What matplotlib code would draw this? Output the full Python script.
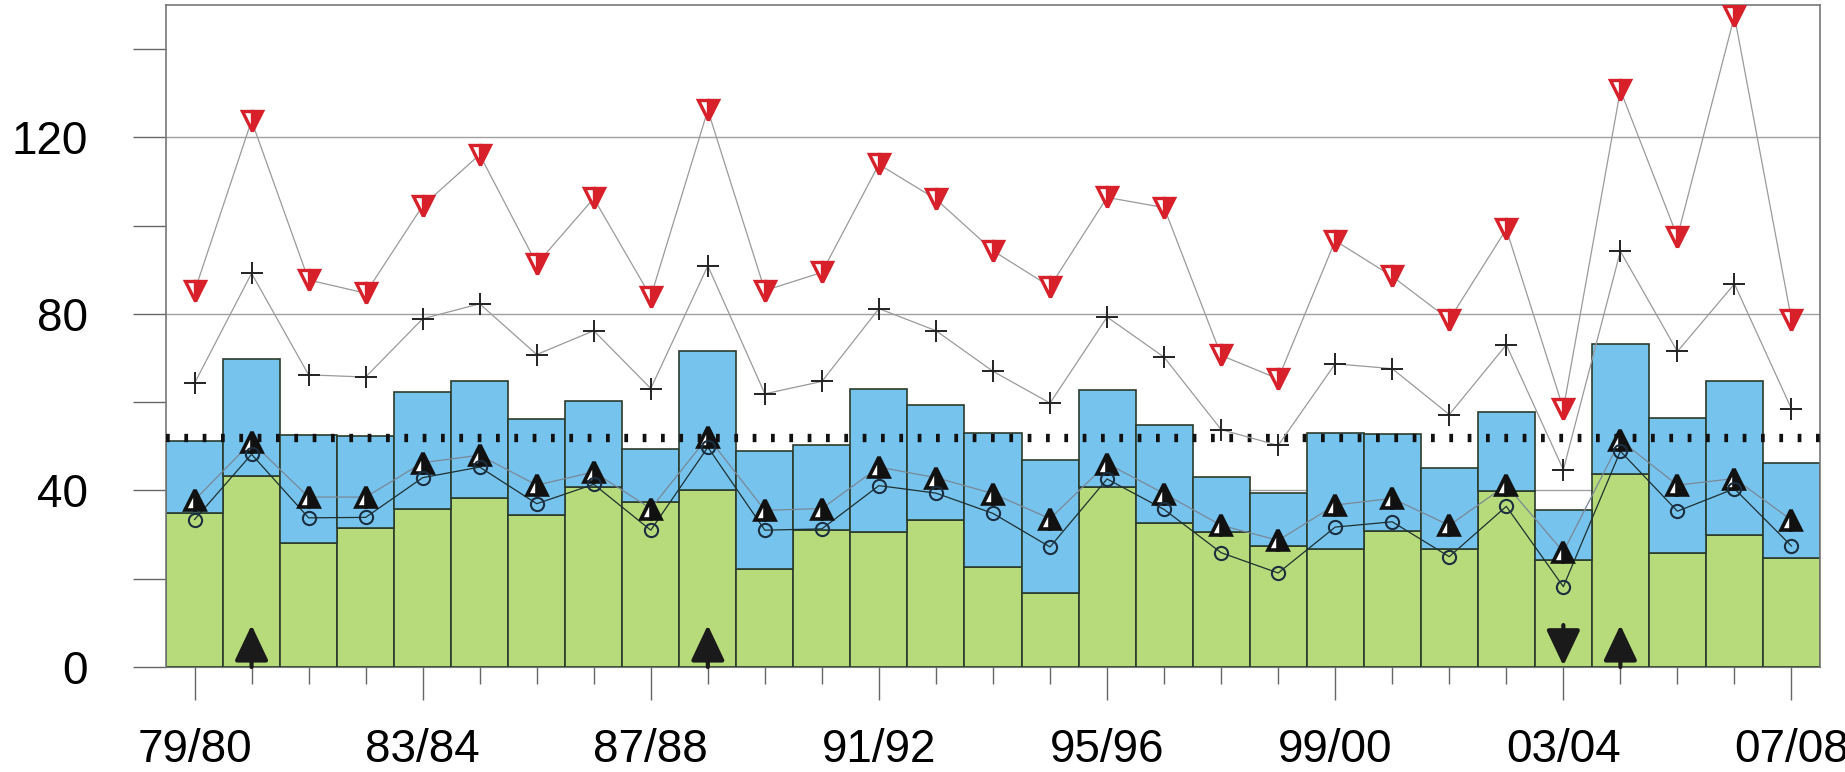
import matplotlib
matplotlib.use("Agg")
import matplotlib.pyplot as plt
import numpy as np
from matplotlib.ticker import FixedLocator, FuncFormatter

plt.rcParams['font.family'] = ['Liberation Sans', 'DejaVu Sans']

seasons = ['79/80', '80/81', '81/82', '82/83', '83/84', '84/85', '85/86', '86/87',
           '87/88', '88/89', '89/90', '90/91', '91/92', '92/93', '93/94', '94/95',
           '95/96', '96/97', '97/98', '98/99', '99/00', '00/01', '01/02', '02/03',
           '03/04', '04/05', '05/06', '06/07', '07/08']

green_top = [34.8, 43.2, 28.0, 31.4, 35.7, 38.2, 34.4, 40.8, 37.4, 40.2, 22.2, 31.0,
             30.5, 33.3, 22.7, 16.8, 40.8, 32.7, 30.7, 27.4, 26.7, 30.8, 26.7, 39.8,
             24.2, 43.8, 25.9, 29.8, 24.6]
blue_top = [51.2, 69.8, 52.6, 52.3, 62.4, 64.7, 56.1, 60.2, 49.3, 71.5, 48.9, 50.4,
            62.9, 59.4, 53.1, 46.8, 62.7, 54.8, 43.1, 39.5, 53.1, 52.9, 45.1, 57.8,
            35.5, 73.2, 56.5, 64.8, 46.2]
red_tri = [85.1, 123.8, 87.7, 84.7, 104.5, 116.1, 91.3, 106.2, 83.9, 126.2, 85.3, 89.4,
           113.9, 106.0, 94.3, 86.2, 106.4, 104.1, 70.6, 65.3, 96.6, 88.5, 78.7, 99.2,
           58.5, 130.7, 97.5, 147.5, 78.7]
plus_vals = [64.3, 89.2, 66.2, 65.7, 78.9, 82.3, 70.8, 76.2, 63.1, 90.9, 61.9, 64.7,
             81.2, 76.2, 67.0, 59.8, 79.3, 70.2, 53.8, 50.2, 68.7, 67.6, 57.2, 73.0,
             44.7, 94.2, 71.5, 86.8, 58.5]
black_tri = [37.8, 51.0, 38.5, 38.5, 46.3, 48.0, 41.2, 44.2, 35.9, 52.1, 35.5, 35.9,
             45.3, 42.9, 39.3, 33.6, 46.1, 39.3, 32.1, 28.7, 36.7, 38.2, 32.1, 41.2,
             26.1, 51.4, 41.2, 42.7, 33.3]
circles = [33.4, 48.2, 33.8, 33.9, 42.9, 45.3, 37.0, 41.4, 31.0, 49.8, 31.0, 31.3,
           41.1, 39.4, 34.8, 27.2, 42.6, 35.7, 25.9, 21.3, 31.7, 32.9, 25.0, 36.4,
           18.2, 48.9, 35.3, 40.4, 27.4]
threshold = 52.0
up_arrows = [1, 9, 25]
down_arrows = [24]
arrow_len = 9.5

x = np.arange(len(seasons))
green_top = np.array(green_top)
blue_top = np.array(blue_top)

fig = plt.figure(figsize=(18.45, 7.72), dpi=100)
ax = fig.add_axes([166/1845, 1-667/772, (1820-166)/1845, (667-5)/772])

for yv in [40, 80, 120]:
    ax.axhline(yv, color='#a0a0a0', lw=1.0, zorder=0.5)

edge = '#2b3b2b'
ax.bar(x, green_top, width=1.0, color='#b7db7a', edgecolor=edge, linewidth=1.2, zorder=2)
ax.bar(x, blue_top - green_top, bottom=green_top, width=1.0, color='#76c3ee',
       edgecolor=edge, linewidth=1.2, zorder=2)

ax.axhline(threshold, color='#111111', lw=6.0, linestyle=(0, (0.45, 1.75)),
           dash_capstyle='butt', zorder=3)

ax.plot(x, red_tri, color='#9a9a9a', lw=0.9, zorder=4)
ax.plot(x, red_tri, linestyle='none', marker='v', markersize=15, fillstyle='right',
        markerfacecolor='#d7202a', markerfacecoloralt='white', markeredgecolor='#d7202a',
        markeredgewidth=2.4, zorder=6)

ax.plot(x, plus_vals, color='#9a9a9a', lw=0.9, zorder=4)
ax.plot(x, plus_vals, linestyle='none', marker='+', markersize=16, color='#222222',
        markeredgewidth=1.4, zorder=6)

ax.plot(x, black_tri, color='#7a8896', lw=0.9, zorder=4)
ax.plot(x, black_tri, linestyle='none', marker='^', markersize=15, fillstyle='right',
        markerfacecolor='#111111', markerfacecoloralt='white', markeredgecolor='#111111',
        markeredgewidth=2.6, zorder=6)

ax.plot(x, circles, color='#1e3030', lw=0.9, zorder=4)
ax.plot(x, circles, linestyle='none', marker='o', markersize=9.5, markerfacecolor='none',
        markeredgecolor='#1b2f40', markeredgewidth=1.5, zorder=6)

astyle = dict(arrowstyle='-|>,head_length=1.1,head_width=0.52', mutation_scale=20,
              lw=3, color='#1a1a1a', shrinkA=0, shrinkB=0)
for i in up_arrows:
    ax.annotate('', xy=(x[i], arrow_len), xytext=(x[i], 0), arrowprops=astyle, zorder=7)
for i in down_arrows:
    ax.annotate('', xy=(x[i], 0.3), xytext=(x[i], arrow_len), arrowprops=astyle, zorder=7)

ax.set_xlim(-0.5, len(seasons) - 0.5)
ax.set_ylim(0, 150)

ax.yaxis.set_major_locator(FixedLocator([0, 20, 40, 60, 80, 100, 120, 140]))
ax.yaxis.set_major_formatter(FuncFormatter(lambda v, p: f"{int(v)}" if v % 40 == 0 else ""))
ax.tick_params(axis='y', direction='out', length=24, width=1, color='#666666',
               labelsize=33, pad=32)

major_idx = list(range(0, len(seasons), 4))
ax.set_xticks(major_idx)
ax.set_xticklabels([seasons[i] for i in major_idx])
ax.set_xticks([i for i in x if i not in major_idx], minor=True)
ax.tick_params(axis='x', which='major', direction='out', length=24, width=1,
               color='#666666', labelsize=33, pad=20)
ax.tick_params(axis='x', which='minor', direction='out', length=12, width=1,
               color='#666666')

for s in ['left', 'right', 'top']:
    ax.spines[s].set_color('#777777')
    ax.spines[s].set_linewidth(1.2)
ax.spines['bottom'].set_color('#777777')
ax.spines['bottom'].set_zorder(1)

fig.savefig('out.png', dpi=100)
